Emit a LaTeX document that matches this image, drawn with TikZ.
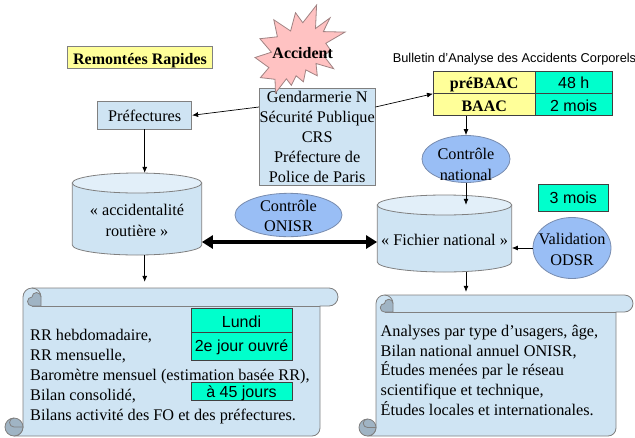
\documentclass[tikz,border=0pt]{standalone}
\usepackage{fontspec}
\setmainfont{Liberation Serif}
\newfontfamily\arialf{Liberation Sans}
\usetikzlibrary{arrows.meta,shapes.geometric}
\definecolor{boxblue}{RGB}{207,228,243}
\definecolor{capblue}{RGB}{226,239,249}
\definecolor{ellblue}{RGB}{153,190,245}
\definecolor{ellb}{RGB}{120,140,175}
\definecolor{ylw}{RGB}{255,255,153}
\definecolor{grn}{RGB}{0,255,204}
\definecolor{starpink}{RGB}{255,194,194}
\definecolor{stb}{RGB}{160,130,130}
\definecolor{bord}{RGB}{128,128,128}
\definecolor{dkb}{RGB}{64,64,64}
\definecolor{curl}{RGB}{160,180,196}
\newcommand\drawscroll[5]{%
 \pgfmathsetmacro\scrL{#1}\pgfmathsetmacro\scrT{#2}\pgfmathsetmacro\scrR{#3}\pgfmathsetmacro\scrB{#4}%
 \pgfmathsetmacro\scrC{#5}\pgfmathsetmacro\scrH{#5/2}\pgfmathsetmacro\scrQ{#5/4}%
 \pgfmathsetmacro\scrX{\scrL+\scrC+\scrH}\pgfmathsetmacro\scrY{\scrT+\scrH}%
 \filldraw[scrollst] ({\scrL+\scrC},\scrY) -- ({\scrL+\scrC},{\scrB-\scrH}) arc[start angle=0,end angle=90,radius=\scrH] -- ({\scrR-\scrC-8},\scrB) arc[start angle=90,end angle=0,radius=8] -- ({\scrR-\scrC},{\scrT+\scrC}) -- ({\scrR-\scrH},{\scrT+\scrC}) arc[start angle=90,end angle=-90,radius=\scrH] -- (\scrX,\scrT) arc[start angle=270,end angle=180,radius=\scrH] -- cycle;
 \draw[scrollline] (\scrX,{\scrT+\scrC}) -- ({\scrR-\scrC},{\scrT+\scrC});
 \draw[scrollline] (\scrX,\scrT) arc[start angle=270,end angle=360,radius=\scrH];
 \filldraw[curlst] ({\scrX+\scrH},\scrY) -- ({\scrX+\scrH},{\scrT+\scrC}) -- (\scrX,{\scrT+\scrC}) arc[start angle=90,end angle=270,radius=\scrQ] arc[start angle=180,end angle=360,radius=\scrQ] -- cycle;
 \filldraw[curlst] ({\scrL+\scrH},{\scrB-\scrH}) circle[radius=\scrH];
 \draw[scrollline] ({\scrL+\scrC},{\scrB-\scrH}) -- ({\scrL+\scrH},{\scrB-\scrH}) arc[start angle=90,end angle=270,radius=\scrQ];
}
\begin{document}
\begin{tikzpicture}[x=1pt,y=-1pt,
 every node/.style={inner sep=0pt},
 ser/.style={font=\fontsize{16.25}{20.2}\selectfont},
 serb/.style={font=\bfseries\fontsize{16}{20}\selectfont},
 sns/.style={font=\arialf\fontsize{16}{19}\selectfont},
 bluebox/.style={rectangle, draw=bord, fill=boxblue, line width=0.8pt},
 ylwbox/.style={rectangle, draw=bord, fill=ylw, line width=0.8pt},
 ylwcell/.style={rectangle, draw=dkb, fill=ylw, line width=0.8pt},
 grncell/.style={rectangle, draw=dkb, fill=grn, line width=0.8pt},
 ellst/.style={ellipse, draw=ellb, fill=ellblue, line width=0.8pt},
 hide/.style={rectangle, draw=none, fill=none},
 arr/.style={-{Latex[length=6pt,width=5pt]}, line width=0.7pt},
 bigarr/.style={{Triangle[length=11pt,width=13pt]}-{Triangle[length=11pt,width=13pt]}, line width=4pt},
 scrollst/.style={draw=bord, fill=boxblue, line width=0.8pt},
 scrollline/.style={draw=bord, line width=0.8pt},
 curlst/.style={draw=bord, fill=curl, line width=0.8pt},
 cylbody/.style={draw=bord, fill=boxblue, line width=0.8pt},
 cylcap/.style={draw=bord, fill=capblue, line width=0.8pt},
 starst/.style={draw=stb, fill=starpink, line width=0.8pt, line join=miter}]
\useasboundingbox (0,0) rectangle (635,437);

% Remontees rapides
\node[ylwbox, serb, minimum width=144.6pt, minimum height=21.6pt, text height=13pt, text depth=0pt] (rr) at (140,57.5) {Remontées Rapides};

% Gendarmerie box
\node[bluebox, ser, align=center, minimum width=115.7pt, minimum height=97.4pt] (gend) at (317.2,137) {Gendarmerie N\\Sécurité Publique\\CRS\\Préfecture de\\Police de Paris};

% Accident star
\filldraw[starst] (302.8,22.7) -- (316.6,5) -- (315.5,28.5) -- (330.0,17.9) -- (323.3,31.6) -- (345,32.1) -- (325.8,43.3) -- (331.1,51.0) -- (323.3,55.2) -- (333.7,68.7) -- (316.0,63.5) -- (317.3,75.8) -- (305.8,69.9) -- (303.4,81.8) -- (296.1,75.8) -- (291.3,85.3) -- (286.4,78.8) -- (275.5,93) -- (275.0,79.3) -- (260.4,77.6) -- (268.9,67.6) -- (255,57.5) -- (271.4,52.2) -- (259.9,38.7) -- (277.4,36.8) -- (273.8,19.8) -- (290.6,31.0) -- (295.5,12.7) -- cycle;
\node[serb, anchor=base] (acc) at (302.7,58.3) {Accident};

% Prefectures
\node[bluebox, ser, minimum width=94pt, minimum height=27.3pt, text height=12.8pt, text depth=0pt] (pref) at (144.7,115.3) {Préfectures};

% Bulletin
\node[font=\arialf\fontsize{12.8}{15}\selectfont, anchor=base] (bull) at (514.5,62) {Bulletin d’Analyse des Accidents Corporels};

% BAAC table
\node[ylwcell, serb, minimum width=101.7pt, minimum height=22.3pt, text height=13.5pt, text depth=0pt] (prebaac) at (484.2,82.2) {préBAAC};
\node[ylwcell, serb, minimum width=101.7pt, minimum height=22.3pt, text height=13.5pt, text depth=0pt] (baac) at (484.2,104.5) {BAAC};
\node[grncell, sns, minimum width=77.3pt, minimum height=22.3pt, text height=13pt, text depth=0pt] (h48) at (573.7,82.2) {48 h};
\node[grncell, sns, minimum width=77.3pt, minimum height=22.3pt, text height=13pt, text depth=0pt] (mois2) at (573.7,104.5) {2 mois};

% Controle national
\node[ellst, minimum width=88pt, minimum height=47pt] (cnat) at (466,159) {};
\node[ser, align=center] (cnatt) at (466,164.5) {Contrôle\\national};

% Cylinder accidentalite
\filldraw[cylbody] (72.3,183) -- (72.3,245) arc[start angle=180,end angle=0,x radius=64.7,y radius=10] -- (201.7,183) -- cycle;
\filldraw[cylcap] (137,183) ellipse[x radius=64.7,y radius=10];
\node[hide, minimum width=129.4pt, minimum height=82pt] (accr) at (137,214) {};
\node[ser, align=center] (accrt) at (137,220.5) {« accidentalité\\routière »};

% Cylinder fichier national
\filldraw[cylbody] (377.3,205) -- (377.3,262) arc[start angle=180,end angle=0,x radius=67.2,y radius=10] -- (511.7,205) -- cycle;
\filldraw[cylcap] (444.5,205) ellipse[x radius=67.2,y radius=10];
\node[hide, minimum width=134.4pt, minimum height=67pt] (fich) at (444.5,238.5) {};
\node[ser, anchor=base] (ficht) at (444.5,245) {« Fichier national »};

% Controle ONISR
\node[ellst, minimum width=107pt, minimum height=43.4pt] (onisr) at (288.5,215) {};
\node[ser, align=center] (onisrt) at (288.5,216.3) {Contrôle\\ONISR};

% 3 mois
\node[grncell, sns, minimum width=70pt, minimum height=27.7pt, text height=11pt, text depth=0pt] (mois3) at (573.3,197.8) {3 mois};

% Validation ODSR
\node[ellst, minimum width=78pt, minimum height=61pt] (val) at (572,248) {};
\node[ser, align=center] (valt) at (572,249.5) {Validation\\ODSR};

% Scrolls
\drawscroll{5}{288}{338}{436}{18}
\node[hide, minimum width=333pt, minimum height=148pt] (lscroll) at (171.5,362) {};
\drawscroll{359}{295}{633}{436}{17}
\node[hide, minimum width=274pt, minimum height=141pt] (rscroll) at (496,365.5) {};

% Left scroll text
\node[ser, anchor=base west] (l1) at (30,340) {RR hebdomadaire,};
\node[ser, anchor=base west] (l2) at (30,360.2) {RR mensuelle,};
\node[ser, anchor=base west] (l3) at (30,380.4) {Baromètre mensuel (estimation basée RR),};
\node[ser, anchor=base west] (l4) at (30,400.6) {Bilan consolidé,};
\node[ser, anchor=base west] (l5) at (30,420.8) {Bilans activité des FO et des préfectures.};

% Right scroll text
\node[ser, anchor=base west] (r1) at (380.5,336.7) {Analyses par type d’usagers, âge,};
\node[ser, anchor=base west] (r2) at (380.5,356.3) {Bilan national annuel ONISR,};
\node[ser, anchor=base west] (r3) at (380.5,375.9) {Études menées par le réseau};
\node[ser, anchor=base west] (r4) at (380.5,395.5) {scientifique et technique,};
\node[ser, anchor=base west] (r5) at (380.5,415) {Études locales et internationales.};

% Lundi boxes
\node[grncell, sns, minimum width=101pt, minimum height=24pt, text height=14.8pt, text depth=0pt] (lundi) at (241.5,320.3) {Lundi};
\node[grncell, sns, minimum width=101pt, minimum height=27.7pt, text height=11pt, text depth=0pt] (jour) at (241.5,346.2) {2e jour ouvré};
\node[grncell, sns, minimum width=101pt, minimum height=17.7pt, text height=12.2pt, text depth=0pt] (j45) at (241.5,391.2) {à 45 jours};

% Connectors
\coordinate (dy) at (0,242);
\draw[arr] (gend.north west |- 0,107) -- (pref.east);
\draw[arr] (gend.north east |- 0,107) -- (prebaac.south west);
\draw[arr] (pref.south) -- (pref.south |- accr.north);
\draw[arr, shorten >=6pt] (pref.south |- accr.south) -- (pref.south |- lscroll.north);
\draw[arr] (cnat.north |- baac.south) -- (cnat.north);
\draw[arr] (cnat.south) -- (cnat.south |- fich.north);
\draw[arr, shorten >=3pt] (cnat.south |- fich.south) -- (cnat.south |- rscroll.north);
\draw[arr] (val.west) -- (val.west -| fich.east);
\draw[bigarr] (accr.east |- dy) -- (fich.west |- dy);
\end{tikzpicture}
\end{document}
